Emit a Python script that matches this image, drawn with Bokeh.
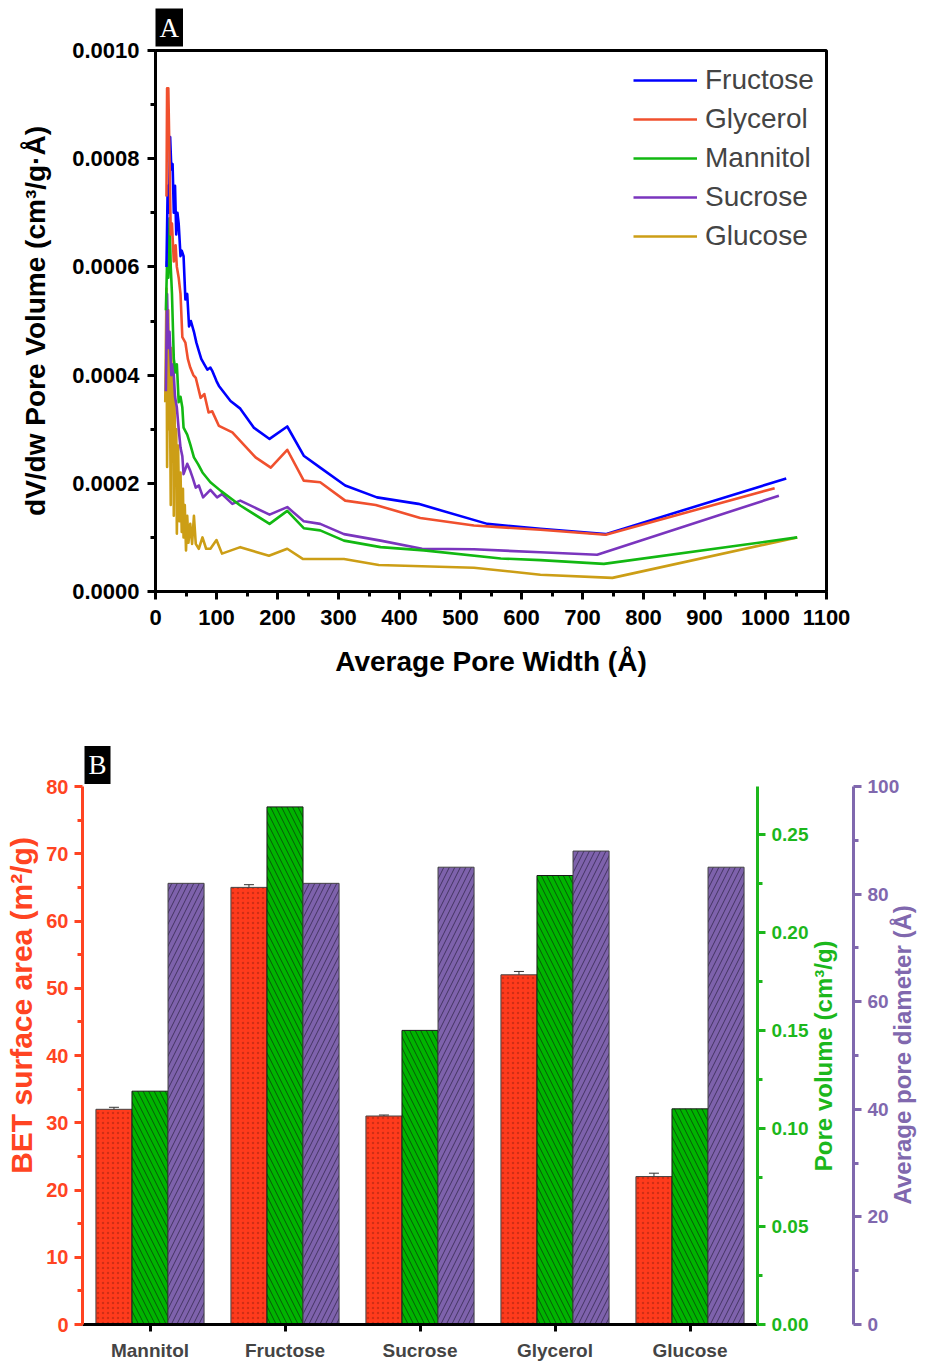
import math
import numpy as np
from bokeh.plotting import figure
from bokeh.models import (Range1d, LinearAxis, FixedTicker, PrintfTickFormatter, Legend, LegendItem,
                          ColumnDataSource, Whisker)
from bokeh.layouts import column
from bokeh.embed import file_html
from bokeh.resources import INLINE

FONT = "Liberation Sans"
SERIF = "Liberation Serif"

# ---------------- Panel A data (pore size distribution) ----------------
fructose_x = [18, 20, 22, 24, 26, 28, 30, 32, 34, 36, 38, 41, 43, 46, 49, 52, 55, 58, 63, 67, 71, 75, 80, 85, 90, 93, 100, 104,
              123, 139, 161, 187, 216, 243, 270, 311, 363, 431, 544, 631, 738, 1034]
fructose_y = [0.00060, 0.00075, 0.00070, 0.00084, 0.00078, 0.00079, 0.00070, 0.00075, 0.00066, 0.00070, 0.00068, 0.00062,
              0.00063, 0.00062, 0.00054, 0.00055, 0.00049, 0.00050, 0.00048, 0.00046, 0.000445, 0.00043, 0.00042, 0.00041,
              0.000414, 0.000408, 0.000389, 0.00038, 0.000352, 0.000338, 0.000303, 0.000282, 0.000305, 0.000251, 0.000229,
              0.000196, 0.000174, 0.000162, 0.000125, 0.000116, 0.000106, 0.000209]

glycerol_x = [18, 19, 21, 23, 25, 27, 30, 33, 35, 38, 41, 44, 49, 53, 57, 62, 66, 74, 80, 87, 93, 104, 126, 164, 189, 216,
              243, 270, 311, 361, 434, 522, 631, 738, 1015]
glycerol_y = [0.00073, 0.00093, 0.00093, 0.00080, 0.00066, 0.00068, 0.00061, 0.00064, 0.00060, 0.00058, 0.00055, 0.00047,
              0.00046, 0.00043, 0.000414, 0.00040, 0.000395, 0.000358, 0.000365, 0.000331, 0.000333, 0.000306, 0.000294,
              0.000248, 0.000229, 0.000262, 0.000205, 0.000202, 0.000168, 0.00016, 0.000136, 0.000122, 0.000114, 0.000105,
              0.000191]

mannitol_x = [17, 19, 21, 23, 25, 27, 30, 33, 35, 38, 41, 44, 46, 52, 57, 63, 70, 77, 90, 107, 139, 187, 216, 243, 270,
              309, 369, 440, 566, 631, 735, 1052]
mannitol_y = [0.00052, 0.00061, 0.00058, 0.00069, 0.00060, 0.00055, 0.00043, 0.000405, 0.00042, 0.00035, 0.00036,
              0.00034, 0.000303, 0.00029, 0.000272, 0.000248, 0.000235, 0.00022, 0.000202, 0.000186, 0.000159, 0.000125,
              0.000149, 0.000117, 0.000113, 0.000094, 0.000082, 0.000076, 0.000061, 0.000058, 0.000051, 0.000100]

sucrose_x = [17, 19, 21, 23, 26, 29, 32, 35, 38, 41, 44, 46, 52, 57, 61, 66, 71, 78, 90, 101, 109, 126, 139, 187, 216,
             243, 270, 309, 369, 437, 522, 631, 724, 1022]
sucrose_y = [0.00037, 0.00055, 0.00045, 0.00048, 0.00040, 0.00042, 0.00036, 0.00034, 0.00030, 0.000266, 0.00025,
             0.000217, 0.000236, 0.000223, 0.00021, 0.000192, 0.000196, 0.000174, 0.000188, 0.000174, 0.00018, 0.000162,
             0.000168, 0.000142, 0.000156, 0.00013, 0.000125, 0.000106, 0.000094, 0.000079, 0.000078, 0.0000725,
             0.000068, 0.000177]

glucose_x = [16, 18, 19, 21, 22, 23, 25, 26, 27, 29, 30, 31, 33, 34, 35, 37, 39, 41, 43, 45, 46, 48, 50, 52, 54, 57, 60,
             63, 66, 71, 77, 83, 90, 100, 109, 139, 186, 216, 242, 309, 366, 522, 631, 749, 1052]
glucose_y = [0.00035, 0.00056, 0.00023, 0.00052, 0.00030, 0.00047, 0.00016, 0.00045, 0.00024, 0.00040, 0.00014,
             0.00036, 0.00020, 0.00030, 0.000107, 0.00027, 0.00013, 0.00022, 0.00011, 0.00019, 0.00010, 0.00016,
             0.000076, 0.00014, 0.00009, 0.000125, 0.000088, 0.00014, 0.000088, 0.000079, 0.0001, 0.000079, 0.000079,
             0.000095, 0.00007, 0.000082, 0.000066, 0.000079, 0.00006, 0.00006, 0.000049, 0.000044, 0.000031, 0.0000252,
             0.0001]

series_names = ["Fructose", "Glycerol", "Mannitol", "Sucrose", "Glucose"]
series_colors = ["#0000FF", "#F0502E", "#12B812", "#7A35BE", "#CC9E16"]
series_xs = [fructose_x, glycerol_x, mannitol_x, sucrose_x, glucose_x]
series_ys = [fructose_y, glycerol_y, mannitol_y, sucrose_y, glucose_y]
draw_order = [4, 3, 2, 0, 1]  # which series drawn first (bottom)

x_ticks_a = list(range(0, 1101, 100))
y_ticks_a = [0.0, 0.0002, 0.0004, 0.0006, 0.0008, 0.0010]

# ---------------- Panel B data (bar chart) ----------------
samples = ["Mannitol", "Fructose", "Sucrose", "Glycerol", "Glucose"]
bet_area = [32.0, 65.0, 31.0, 52.0, 22.0]
bet_err = [0.3, 0.4, 0.15, 0.5, 0.5]
pore_volume = [0.119, 0.264, 0.150, 0.229, 0.110]
pore_diameter = [82.0, 82.0, 85.0, 88.0, 85.0]
bet_ticks = [0, 10, 20, 30, 40, 50, 60, 70, 80]
pv_ticks = [0.0, 0.05, 0.10, 0.15, 0.20, 0.25]
pd_ticks = [0, 20, 40, 60, 80, 100]

# ======================= Panel A =======================
pa = figure(width=937, height=735, output_backend="svg", toolbar_location=None,
            x_range=Range1d(0, 1100), y_range=Range1d(0, 0.001),
            min_border_left=155, min_border_right=111, min_border_top=50, min_border_bottom=144)
pa.frame_align = False
pa.grid.visible = False
pa.outline_line_color = "black"
pa.outline_line_width = 3
pa.background_fill_color = "white"
pa.border_fill_color = "white"

pa.title.text = "A"
pa.title.text_color = "white"
pa.title.text_font = SERIF
pa.title.text_font_style = "normal"
pa.title.text_font_size = "27px"
pa.title.background_fill_color = "black"
pa.title.align = "left"
pa.title.offset = 0
pa.title.standoff = 8
pa.title.padding = 4

renderers = {}
for i in draw_order:
    r = pa.line(series_xs[i], series_ys[i], line_color=series_colors[i], line_width=2.6, line_join="round")
    renderers[i] = r

for ax in (pa.xaxis[0], pa.yaxis[0]):
    ax.axis_line_width = 3
    ax.axis_line_color = "black"
    ax.major_tick_line_width = 3
    ax.minor_tick_line_width = 3
    ax.major_tick_out = 8
    ax.major_tick_in = 0
    ax.minor_tick_out = 5
    ax.minor_tick_in = 0
    ax.major_label_text_font = FONT
    ax.major_label_text_font_style = "bold"
    ax.major_label_text_font_size = "22px"
    ax.major_label_text_color = "black"
    ax.axis_label_text_font = FONT
    ax.axis_label_text_font_style = "bold"
    ax.axis_label_text_font_size = "28px"
    ax.axis_label_text_color = "black"

pa.xaxis.ticker = FixedTicker(ticks=x_ticks_a, minor_ticks=list(range(50, 1100, 100)))
pa.yaxis.ticker = FixedTicker(ticks=y_ticks_a, minor_ticks=[0.0001, 0.0003, 0.0005, 0.0007, 0.0009])
pa.yaxis.formatter = PrintfTickFormatter(format="%.4f")
pa.xaxis.axis_label = "Average Pore Width (Å)"
pa.yaxis.axis_label = "dV/dw Pore Volume (cm³/g·Å)"
pa.xaxis.major_label_standoff = 10
pa.xaxis.axis_label_standoff = 18
pa.yaxis.major_label_standoff = 8
pa.yaxis.axis_label_standoff = 18

legend = Legend(items=[LegendItem(label=series_names[i], renderers=[renderers[i]]) for i in range(5)],
                location=(478, 339), padding=0, margin=0, spacing=7, glyph_width=64, glyph_height=30,
                label_standoff=8, label_text_font=FONT, label_text_font_size="28px",
                border_line_alpha=0, background_fill_alpha=0)
pa.add_layout(legend)

# ======================= Panel B =======================
RED = "#FF3B1C"
GREEN = "#00B400"
PURPLE = "#7E62AC"
RED_AX = "#FF4422"
GREEN_AX = "#1CB71C"
PURPLE_AX = "#8068AE"

pb = figure(width=937, height=628, output_backend="svg", toolbar_location=None,
            x_range=Range1d(-0.5, 4.5), y_range=Range1d(0, 80),
            min_border_left=82, min_border_right=180, min_border_top=51, min_border_bottom=36)
pb.frame_align = False
pb.grid.visible = False
pb.outline_line_color = None
pb.extra_y_ranges = {"pv": Range1d(0, 0.2744), "pd": Range1d(0, 100)}

pb.title.text = "B"
pb.title.text_color = "white"
pb.title.text_font = SERIF
pb.title.text_font_style = "normal"
pb.title.text_font_size = "27px"
pb.title.background_fill_color = "black"
pb.title.align = "left"
pb.title.offset = 2
pb.title.standoff = 5
pb.title.padding = 4

bw = 0.267
xc = np.arange(len(samples))
src = ColumnDataSource(dict(xr=xc - bw, xg=xc, xp=xc + bw, bet=bet_area, pv=pore_volume, pd=pore_diameter,
                            lo=np.array(bet_area) - np.array(bet_err), hi=np.array(bet_area) + np.array(bet_err)))

pb.vbar(x="xr", top="bet", width=bw, source=src, fill_color=RED, line_color="#444444", line_width=1,
        hatch_pattern=".", hatch_color="#A02010", hatch_alpha=0.5, hatch_scale=5, hatch_weight=0.6)
pb.vbar(x="xg", top="pv", width=bw, source=src, y_range_name="pv", fill_color=GREEN, line_color="#1a1a1a",
        line_width=1, hatch_pattern="\\", hatch_color="#0a3a0a", hatch_alpha=0.75, hatch_scale=11, hatch_weight=1)
pb.vbar(x="xp", top="pd", width=bw, source=src, y_range_name="pd", fill_color=PURPLE, line_color="#444444",
        line_width=1, hatch_pattern="/", hatch_color="#2a2040", hatch_alpha=0.7, hatch_scale=11, hatch_weight=1)
wsk = Whisker(base="xr", upper="hi", lower="lo", source=src, line_color="#333333", line_width=1)
wsk.upper_head.size = 10
wsk.lower_head.size = 10
wsk.upper_head.line_color = "#333333"
wsk.lower_head.line_color = "#333333"
pb.add_layout(wsk)

# bottom axis
xa = pb.xaxis[0]
xa.ticker = FixedTicker(ticks=list(range(len(samples))))
xa.major_label_overrides = {i: s for i, s in enumerate(samples)}
xa.axis_line_width = 3
xa.axis_line_color = "black"
xa.major_tick_line_width = 3
xa.major_tick_out = 7
xa.major_tick_in = 0
xa.minor_tick_line_color = None
xa.major_label_text_font = FONT
xa.major_label_text_font_style = "bold"
xa.major_label_text_font_size = "19px"
xa.major_label_standoff = 8


def style_axis(ax, color, ticks, minor, label, tick_size, label_size):
    ax.ticker = FixedTicker(ticks=ticks, minor_ticks=minor)
    ax.axis_line_color = color
    ax.axis_line_width = 3
    ax.major_tick_line_color = color
    ax.minor_tick_line_color = color
    ax.major_tick_line_width = 3
    ax.minor_tick_line_width = 3
    ax.major_tick_out = 8
    ax.major_tick_in = 0
    ax.minor_tick_out = 5
    ax.minor_tick_in = 0
    ax.major_label_text_color = color
    ax.major_label_text_font = FONT
    ax.major_label_text_font_style = "bold"
    ax.major_label_text_font_size = tick_size
    ax.major_label_standoff = 6
    ax.axis_label = label
    ax.axis_label_text_color = color
    ax.axis_label_text_font = FONT
    ax.axis_label_text_font_style = "bold"
    ax.axis_label_text_font_size = label_size
    ax.axis_label_standoff = 10


NB = "\u00a0"  # non-breaking space used to position rotated axis titles along their axes

style_axis(pb.yaxis[0], RED_AX, bet_ticks, [5, 15, 25, 35, 45, 55, 65, 75], NB * 12 + "BET surface area (m²/g)",
           "20px", "30px")
pb.yaxis[0].axis_label_standoff = 5

ax_pv = LinearAxis(y_range_name="pv")
style_axis(ax_pv, GREEN_AX, pv_ticks, [0.025, 0.075, 0.125, 0.175, 0.225], NB * 23 + "Pore volume (cm³/g)",
           "19px", "24px")
ax_pv.formatter = PrintfTickFormatter(format="%.2f")
ax_pv.axis_label_orientation = math.pi / 2
ax_pv.axis_label_align = "start"
ax_pv.axis_label_standoff = 12
pb.add_layout(ax_pv, "right")

ax_pd = LinearAxis(y_range_name="pd")
style_axis(ax_pd, PURPLE_AX, pd_ticks, [10, 30, 50, 70, 90], NB * 18 + "Average pore diameter (Å)", "19px", "24px")
ax_pd.axis_label_orientation = math.pi / 2
ax_pd.axis_label_align = "start"
ax_pd.axis_label_standoff = 0
pb.add_layout(ax_pd, "right")

layout = column(pa, pb, spacing=0)
open("out.html", "w").write(file_html(layout, INLINE))
